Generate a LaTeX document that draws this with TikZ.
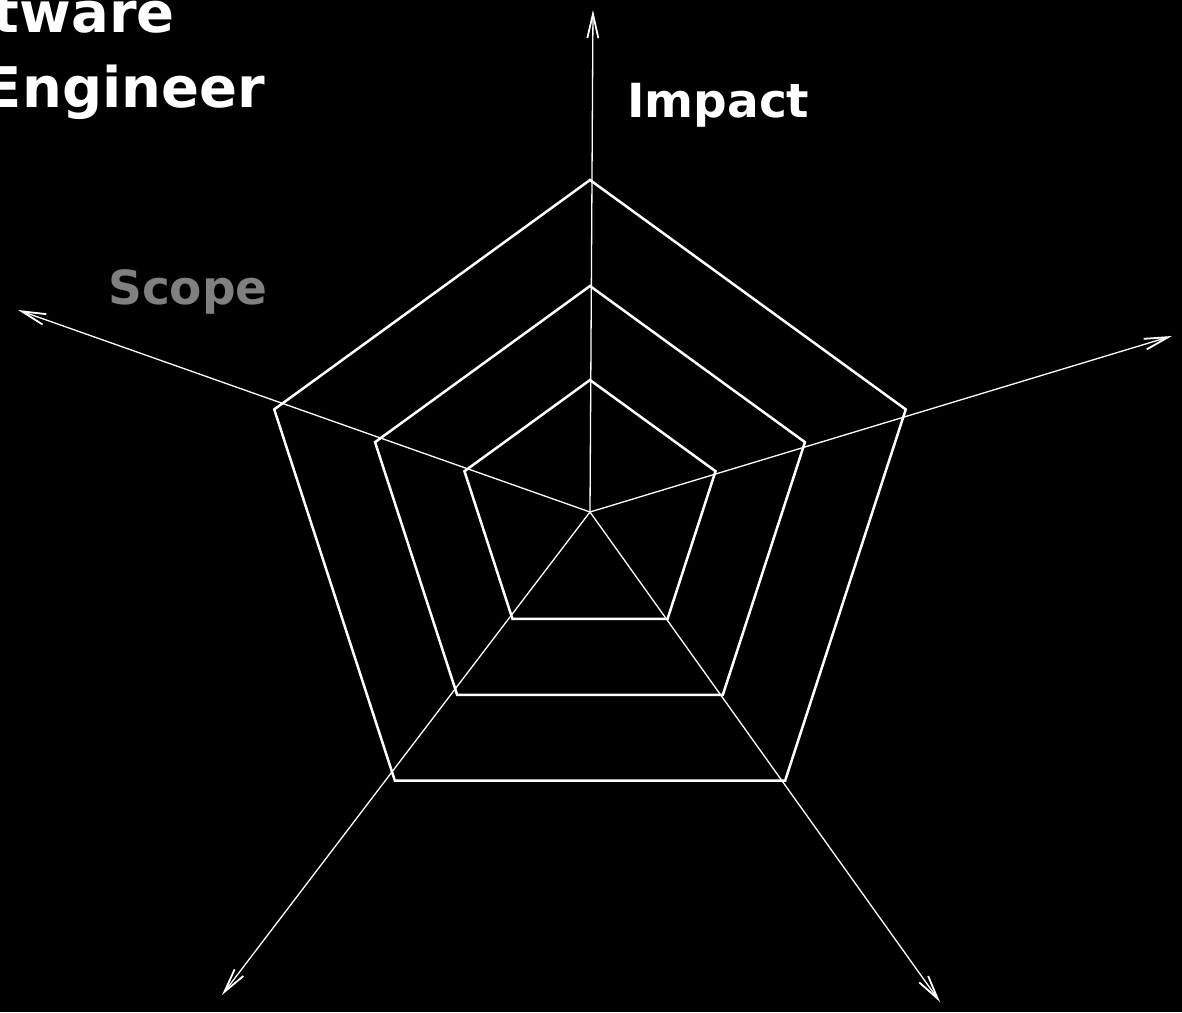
\documentclass[tikz,border=0pt]{standalone}
\usepackage{fontspec}
\setmainfont{DejaVu Sans}
\usetikzlibrary{arrows.meta}
\begin{document}
\begin{tikzpicture}[x=1pt,y=1pt,
  web/.style={draw=white,line width=2.5pt,line join=miter},
  axisline/.style={draw=white,line width=1.3pt,-{Straight Barb[length=24pt,width=11pt,line width=1.8pt]}},
  lbl/.style={font=\fontsize{47}{52}\selectfont\bfseries,text=white,inner sep=0pt},
  title/.style={font=\fontsize{56}{60}\selectfont\bfseries,text=white,inner sep=0pt}]
\useasboundingbox (-590,-500) rectangle (592,512);
\clip (-590,-500) rectangle (592,512);
\fill[black] (-590,-500) rectangle (592,512);
\coordinate (o) at (0,0);
\coordinate (e1) at (3,502);
\coordinate (e2) at (582,176);
\coordinate (e3) at (350,-490);
\coordinate (e4) at (-368,-483);
\coordinate (e5) at (-572,202);
\foreach \r/\n in {132/a,226/b,332/c}{
  \coordinate (\n1) at (90:\r);
  \coordinate (\n2) at (18:\r);
  \coordinate (\n3) at (-54:\r);
  \coordinate (\n4) at (-126:\r);
  \coordinate (\n5) at (162:\r);
  \draw[web] (\n1) -- (\n2) -- (\n3) -- (\n4) -- (\n5) -- cycle;
}
\foreach \i in {1,...,5}{
  \draw[axisline] (o) -- (e\i);
}
\node[lbl,anchor=base west] (impact) at (37,394) {Impact};
\node[lbl,anchor=base west,text={rgb,255:red,128;green,128;blue,128}] (scope) at (-482,207) {Scope};
\node[title,anchor=base east] (soft) at (-415,479) {Software};
\node[title,anchor=base east] (eng) at (-325,404) {Engineer};
\end{tikzpicture}
\end{document}
